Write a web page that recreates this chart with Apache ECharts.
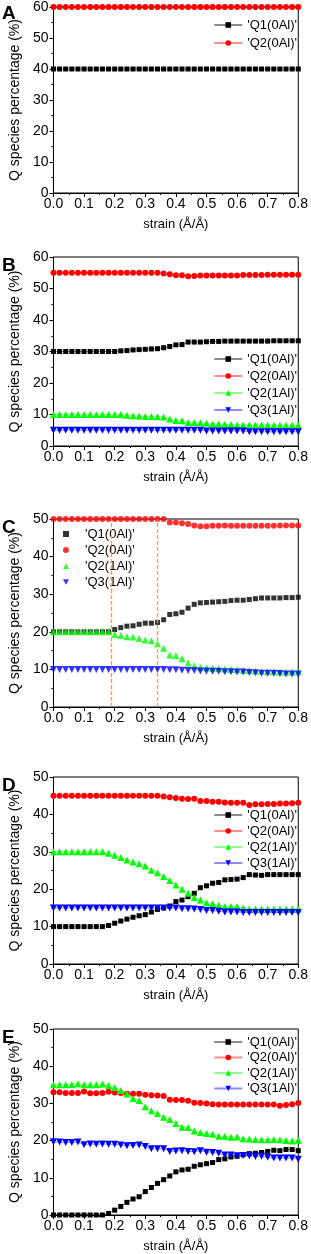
<!DOCTYPE html>
<html>
<head>
<meta charset="utf-8">
<script src="https://cdn.jsdelivr.net/npm/echarts@6/dist/echarts.min.js"></script>
<style>
html,body{margin:0;padding:0;background:#fff;}
#c{width:311px;height:1254px;}
</style>
</head>
<body>
<div id="c"></div>
<script>
// ---- data ----
const strain = [0,0.02,0.04,0.06,0.08,0.1,0.12,0.14,0.16,0.18,0.2,0.22,0.24,0.26,0.28,0.3,0.32,0.34,0.36,0.38,0.4,0.42,0.44,0.46,0.48,0.5,0.52,0.54,0.56,0.58,0.6,0.62,0.64,0.66,0.68,0.7,0.72,0.74,0.76,0.78,0.8];
const xTicks = ['0.0','0.1','0.2','0.3','0.4','0.5','0.6','0.7','0.8'];
const seriesNames = ["'Q1(0Al)'","'Q2(0Al)'","'Q2(1Al)'","'Q3(1Al)'"];
const panelLabels = ['A','B','C','D','E'];
const yMax = [60,60,50,50,50];
const cMarkers = [0.19,0.34];

const A_Q1 = [40,40,40,40,40,40,40,40,40,40,40,40,40,40,40,40,40,40,40,40,40,40,40,40,40,40,40,40,40,40,40,40,40,40,40,40,40,40,40,40,40];
const A_Q2 = [60,60,60,60,60,60,60,60,60,60,60,60,60,60,60,60,60,60,60,60,60,60,60,60,60,60,60,60,60,60,60,60,60,60,60,60,60,60,60,60,60];

const B_Q1 = [30,30,30,30,30,30,30,30,30,30,30,30.2,30.3,30.5,30.6,30.7,30.8,30.9,31.2,31.6,32.1,32.2,33.0,33.0,33.0,33.1,33.2,33.2,33.3,33.3,33.3,33.3,33.3,33.3,33.3,33.3,33.4,33.4,33.4,33.4,33.4];
const B_Q2 = [55,55,55,55,55,55,55,55,55,55,55,55,55,55,55,55,55,55,54.8,54.5,54.2,54.2,53.9,54.0,54.1,54.1,54.1,54.1,54.1,54.1,54.1,54.3,54.3,54.3,54.3,54.4,54.4,54.4,54.4,54.4,54.4];
const B_Q21 = [10,10,10,10,10,10,10,10,10,10,10,10,9.8,9.6,9.5,9.4,9.4,9.3,9.2,8.6,8.1,8.0,7.5,7.5,7.4,7.2,7.0,7.0,6.9,6.8,6.7,6.7,6.7,6.7,6.7,6.7,6.6,6.6,6.6,6.6,6.6];
const B_Q3 = [5,5,5,5,5,5,5,5,5,5,5,5,5,5,5,5,5,5,5,5,5,5,5,5,5,4.8,4.8,4.8,4.8,4.8,4.8,4.8,4.5,4.5,4.5,4.5,4.5,4.5,4.5,4.5,4.5];

const C_Q1 = [20,20,20,20,20,20,20,20,20,20,20.6,21.1,21.5,21.6,22.0,22.3,22.3,22.5,23.2,24.6,24.8,25.2,26.3,27.3,27.7,27.8,27.9,28.0,28.1,28.3,28.4,28.4,28.6,28.8,29.0,29.0,29.0,29.0,29.1,29.1,29.2];
const C_Q2 = [50,50,50,50,50,50,50,50,50,50,50,50,50,50,50,50,50,50,50,49.1,49.1,48.9,48.7,48.3,48.1,48.1,48.2,48.2,48.3,48.2,48.2,48.2,48.2,48.2,48.2,48.2,48.2,48.3,48.3,48.3,48.3];
const C_Q21 = [20,20,20,20,20,20,20,20,20,20,19.3,19.0,18.7,18.6,18.2,17.8,17.6,16.8,15.6,13.8,13.6,12.8,11.7,11.0,10.6,10.4,10.3,10.2,10.1,10.0,9.9,9.8,9.7,9.6,9.5,9.4,9.4,9.3,9.3,9.3,9.4];
const C_Q3 = [10,10,10,10,10,10,10,10,10,10,10,10,10,10,10,10,10,10,10,9.9,9.9,9.8,9.7,9.7,9.6,9.6,9.5,9.5,9.4,9.4,9.3,9.3,9.2,9.1,9.0,9.0,9.0,8.9,8.8,8.8,8.8];

const D_Q1 = [10,10,10,10,10,10,10,10,10,10.3,10.9,11.5,12.0,12.5,12.9,13.2,13.9,14.6,15.0,15.5,16.7,17.1,18.0,18.9,20.4,20.9,21.6,21.8,22.5,22.6,22.7,23.1,23.9,23.8,23.7,23.9,23.9,23.9,23.9,23.9,23.9];
const D_Q2 = [45,45,45,45,45,45,45,45,45,45,45,45,45,45,45,45,45,45,44.8,44.6,44.4,44.2,44.1,44.2,43.6,43.6,43.4,43.4,43.2,43.1,43.1,43.1,42.5,42.7,42.7,42.8,42.8,42.9,42.9,43.0,43.1];
const D_Q21 = [30,30,30,30,30,30,30,30,30,29.6,29.1,28.5,27.8,27.3,26.8,26.2,25.1,24.4,23.4,22.3,21.1,20.0,18.9,17.8,17.1,16.4,16.1,15.7,15.4,15.4,15.4,15.0,14.7,14.7,14.7,14.7,14.7,14.7,14.7,14.7,14.7];
const D_Q3 = [15,15,15,15,15,15,15,15,15,15,15,15,15,15,15,15,15,15,15,15,15,14.8,14.8,14.7,14.6,14.3,14.3,14.1,13.9,13.9,13.9,13.8,13.8,13.8,13.8,13.8,13.8,13.8,13.8,13.8,13.8];

const E_Q1 = [0,0,0,0,0,0,0,0,0,0.4,1.3,2.3,3.4,4.3,4.9,6.3,7.4,8.5,9.5,10.5,11.6,12.1,12.3,13.1,13.5,13.8,14.1,14.9,15.1,15.6,15.8,16.2,16.5,16.6,16.8,17.1,17.4,17.3,17.6,17.6,17.3];
const E_Q2 = [33,33,32.8,32.8,32.8,33.2,32.7,32.7,32.8,33.1,32.9,32.8,32.6,32.6,32.6,32.3,32.2,32.1,32.0,31.0,30.9,30.9,30.7,30.2,30.1,30.0,29.8,29.7,29.7,29.7,29.7,29.7,29.7,29.7,29.7,29.7,29.7,29.4,29.6,29.8,30.1];
const E_Q21 = [35,35,35,35.1,35.3,35,35,35,35.2,34.8,34.3,33.5,32.5,31.3,30.8,29.1,28.0,27.3,26.3,25.7,24.6,23.6,23.5,22.6,22.2,21.9,21.7,21.2,21.2,20.9,21.0,20.5,20.4,20.3,20.2,20.2,20.3,20.2,20.0,19.9,20.1];
const E_Q3 = [19.7,19.6,19.5,19.5,19.6,18.9,19.1,19.0,19.1,19.0,19.0,18.8,18.6,18.7,18.8,18.4,17.8,17.8,17.8,17.1,17.2,17.3,17.1,17.0,17.3,16.9,16.8,16.6,16.1,16.1,15.9,16.0,15.9,15.7,15.8,15.5,15.3,15.3,15.3,15.3,15.0];

// ---- layout / style ----
const panels = [
  {label:'A', data:[A_Q1,A_Q2], top:5, height:188, legend:{right:14, top:18, gap:4}, scatter:false},
  {label:'B', data:[B_Q1,B_Q2,B_Q21,B_Q3], top:257, height:189, legend:{right:14, top:352, gap:3}, scatter:false},
  {label:'C', data:[C_Q1,C_Q2,C_Q21,C_Q3], top:519, height:188, legend:{left:63, top:527, gap:2}, scatter:true},
  {label:'D', data:[D_Q1,D_Q2,D_Q21,D_Q3], top:777, height:187, legend:{right:14, top:808, gap:2}, scatter:false},
  {label:'E', data:[E_Q1,E_Q2,E_Q21,E_Q3], top:1029, height:188, legend:{right:14, top:1035, gap:1.5}, scatter:false}
];
const sty = [
  {color:'#000000', symbol:'rect', size:5, rot:0, icon:'rect'},
  {color:'#ff0000', symbol:'circle', size:6, rot:0, icon:'circle'},
  {color:'#00ff00', symbol:'triangle', size:7, rot:0, icon:'triangle'},
  {color:'#0000ff', symbol:'triangle', size:7, rot:180, icon:'path://M0,0L10,0L5,9Z'}
];
const FONT = '"Liberation Sans", Arial, sans-serif';

const grids=[], xAxes=[], yAxes=[], series=[], legends=[], titles=[];
const nameMap = {};
panels.forEach((p, gi) => {
  grids.push({left:50, right:9, top:p.top, height:p.height, show:true, borderColor:'#000', borderWidth:1, containLabel:false});
  xAxes.push({
    type:'value', gridIndex:gi, min:0, max:0.8, interval:0.1,
    name:'strain (Å/Å)', nameLocation:'middle', nameGap:25,
    nameTextStyle:{fontFamily:FONT, fontSize:13, color:'#000'},
    axisLine:{lineStyle:{color:'#000', width:1}},
    axisTick:{show:true, inside:false, length:4, lineStyle:{color:'#000'}},
    minorTick:{show:true, splitNumber:2, length:2, lineStyle:{color:'#000'}},
    splitLine:{show:false},
    axisLabel:{fontFamily:FONT, fontSize:14, color:'#000', margin:4,
      formatter:v => xTicks[Math.round(v*10)]}
  });
  yAxes.push({
    type:'value', gridIndex:gi, min:0, max:yMax[gi], interval:10,
    name:'Q species percentage (%)', nameLocation:'middle', nameGap:23, nameRotate:90,
    nameTextStyle:{fontFamily:FONT, fontSize:14, color:'#000'},
    axisLine:{show:true, lineStyle:{color:'#000', width:1}},
    axisTick:{show:true, inside:false, length:4, lineStyle:{color:'#000'}},
    minorTick:{show:true, splitNumber:2, length:2, lineStyle:{color:'#000'}},
    splitLine:{show:false},
    axisLabel:{fontFamily:FONT, fontSize:14, color:'#000', margin:5}
  });
  const legendData = [];
  p.data.forEach((arr, si) => {
    const s = sty[si];
    const id = p.label + si;
    nameMap[id] = seriesNames[si];
    legendData.push(p.scatter ? {name:id, icon:s.icon} : id);
    const ser = {
      name:id, type: p.scatter ? 'scatter' : 'line',
      xAxisIndex:gi, yAxisIndex:gi,
      data: strain.map((x,i)=>[x, arr[i]]),
      symbol:s.symbol, symbolSize:s.size, symbolRotate:s.rot,
      itemStyle:{color:s.color},
      animation:false, z: 2+si
    };
    if (!p.scatter) {
      ser.showSymbol = true;
      ser.lineStyle = {color:s.color, width:1, opacity:0.45};
    }
    if (p.scatter && si === 0) {
      ser.markLine = {
        silent:true, symbol:'none', animation:false,
        label:{show:false},
        lineStyle:{color:'#f7a31c', type:[4,2], width:1.3},
        data: cMarkers.map(v => ({xAxis:v}))
      };
    }
    series.push(ser);
  });
  const lg = {
    orient:'vertical', top:p.legend.top, itemGap:p.legend.gap,
    itemWidth: p.scatter ? 6 : 28, itemHeight: p.scatter ? 6 : 7, padding:0,
    data:legendData, selectedMode:false,
    formatter: n => nameMap[n],
    textStyle:{fontFamily:FONT, fontSize:13, color:'#000', lineHeight:14,
      padding: p.scatter ? [0,0,0,11] : 0}
  };
  if (p.legend.right !== undefined) lg.right = p.legend.right; else lg.left = p.legend.left;
  legends.push(lg);
  titles.push({text:p.label, left:2, top:p.top - 1, padding:0,
    textStyle:{fontFamily:FONT, fontSize:19, fontWeight:'bold', color:'#000'}});
});

const chart = echarts.init(document.getElementById('c'), null, {renderer:'canvas'});
chart.setOption({
  animation:false,
  backgroundColor:'#fff',
  title:titles,
  grid:grids, xAxis:xAxes, yAxis:yAxes,
  legend:legends,
  series:series
});
</script>
</body>
</html>
